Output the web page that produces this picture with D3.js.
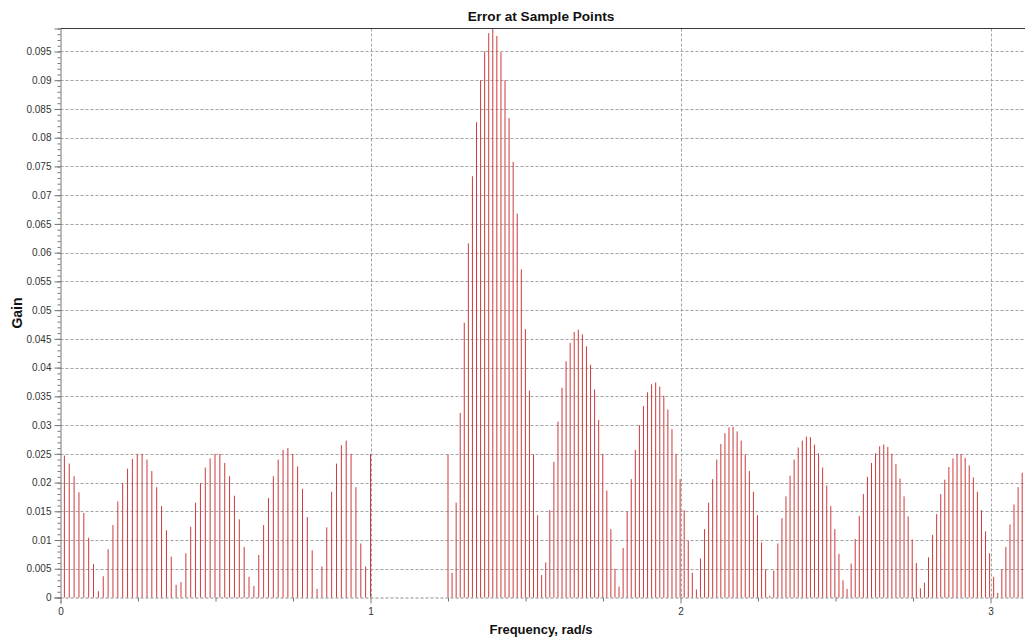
<!DOCTYPE html>
<html>
<head>
<meta charset="utf-8">
<script src="https://cdn.jsdelivr.net/npm/d3@7"></script>
<style>
  body { margin: 0; background: #fff; }
  svg { display: block; }
  text { font-family: "Liberation Sans", Arial, sans-serif; }
</style>
</head>
<body>
<svg id="chart" width="1025" height="639"></svg>
<script>
// Passband sample frequencies (rad/s) and the error magnitude at each one
const passFreq = [
  0.0125, 0.0282, 0.0439, 0.0595, 0.0752, 0.0909, 0.1065, 0.1222, 0.1379, 0.1536,
  0.1692, 0.1849, 0.2006, 0.2163, 0.2319, 0.2476, 0.2633, 0.2790, 0.2946, 0.3103,
  0.3260, 0.3417, 0.3573, 0.3730, 0.3887, 0.4044, 0.4200, 0.4357, 0.4514, 0.4671,
  0.4827, 0.4984, 0.5141, 0.5298, 0.5454, 0.5611, 0.5768, 0.5925, 0.6081, 0.6238,
  0.6395, 0.6552, 0.6708, 0.6865, 0.7022, 0.7179, 0.7335, 0.7492, 0.7649, 0.7806,
  0.7962, 0.8119, 0.8276, 0.8433, 0.8589, 0.8746, 0.8903, 0.9060, 0.9216, 0.9373,
  0.9530, 0.9687, 0.9843, 1.0000
];
const passGain = [
  0.0247, 0.0233, 0.0211, 0.0183, 0.0147, 0.0104, 0.0058, 0.0011, 0.0037, 0.0084,
  0.0126, 0.0167, 0.0199, 0.0224, 0.0241, 0.0250, 0.0250, 0.0240, 0.0220, 0.0192,
  0.0159, 0.0117, 0.0071, 0.0022, 0.0027, 0.0077, 0.0123, 0.0165, 0.0199, 0.0226,
  0.0242, 0.0250, 0.0250, 0.0234, 0.0211, 0.0177, 0.0136, 0.0088, 0.0036, 0.0020,
  0.0074, 0.0126, 0.0173, 0.0211, 0.0240, 0.0257, 0.0260, 0.0250, 0.0228, 0.0189,
  0.0140, 0.0082, 0.0015, 0.0054, 0.0122, 0.0184, 0.0233, 0.0265, 0.0273, 0.0250,
  0.0192, 0.0094, 0.0054, 0.0250
];

// Stopband sample frequencies (rad/s) and the error magnitude at each one
const stopFreq = [
  1.2500, 1.2631, 1.2763, 1.2894, 1.3025, 1.3157, 1.3288, 1.3420, 1.3551, 1.3682,
  1.3814, 1.3945, 1.4076, 1.4208, 1.4339, 1.4470, 1.4602, 1.4733, 1.4865, 1.4996,
  1.5127, 1.5259, 1.5390, 1.5521, 1.5653, 1.5784, 1.5915, 1.6047, 1.6178, 1.6309,
  1.6441, 1.6572, 1.6704, 1.6835, 1.6966, 1.7098, 1.7229, 1.7360, 1.7492, 1.7623,
  1.7754, 1.7886, 1.8017, 1.8149, 1.8280, 1.8411, 1.8543, 1.8674, 1.8805, 1.8937,
  1.9068, 1.9199, 1.9331, 1.9462, 1.9593, 1.9725, 1.9856, 1.9988, 2.0119, 2.0250,
  2.0382, 2.0513, 2.0644, 2.0776, 2.0907, 2.1038, 2.1170, 2.1301, 2.1433, 2.1564,
  2.1695, 2.1827, 2.1958, 2.2089, 2.2221, 2.2352, 2.2483, 2.2615, 2.2746, 2.2878,
  2.3009, 2.3140, 2.3272, 2.3403, 2.3534, 2.3666, 2.3797, 2.3928, 2.4060, 2.4191,
  2.4322, 2.4454, 2.4585, 2.4717, 2.4848, 2.4979, 2.5111, 2.5242, 2.5373, 2.5505,
  2.5636, 2.5767, 2.5899, 2.6030, 2.6162, 2.6293, 2.6424, 2.6556, 2.6687, 2.6818,
  2.6950, 2.7081, 2.7212, 2.7344, 2.7475, 2.7607, 2.7738, 2.7869, 2.8001, 2.8132,
  2.8263, 2.8395, 2.8526, 2.8657, 2.8789, 2.8920, 2.9051, 2.9183, 2.9314, 2.9446,
  2.9577, 2.9708, 2.9840, 2.9971, 3.0102, 3.0234, 3.0365, 3.0496, 3.0628, 3.0759,
  3.0891, 3.1022
];
const stopGain = [
  0.0249, 0.0043, 0.0165, 0.0321, 0.0478, 0.0616, 0.0733, 0.0827, 0.0900, 0.0950,
  0.0982, 0.0989, 0.0977, 0.0949, 0.0900, 0.0834, 0.0758, 0.0668, 0.0571, 0.0467,
  0.0360, 0.0249, 0.0143, 0.0039, 0.0061, 0.0152, 0.0236, 0.0306, 0.0365, 0.0411,
  0.0443, 0.0462, 0.0466, 0.0458, 0.0437, 0.0405, 0.0362, 0.0309, 0.0250, 0.0186,
  0.0119, 0.0050, 0.0019, 0.0086, 0.0150, 0.0206, 0.0257, 0.0300, 0.0333, 0.0357,
  0.0371, 0.0374, 0.0367, 0.0351, 0.0327, 0.0293, 0.0250, 0.0206, 0.0152, 0.0099,
  0.0043, 0.0014, 0.0068, 0.0119, 0.0165, 0.0206, 0.0240, 0.0267, 0.0286, 0.0296,
  0.0297, 0.0289, 0.0273, 0.0249, 0.0220, 0.0184, 0.0143, 0.0096, 0.0049, 0.0003,
  0.0047, 0.0094, 0.0138, 0.0176, 0.0212, 0.0240, 0.0261, 0.0273, 0.0280, 0.0279,
  0.0266, 0.0251, 0.0226, 0.0195, 0.0159, 0.0119, 0.0076, 0.0030, 0.0015, 0.0059,
  0.0102, 0.0142, 0.0180, 0.0210, 0.0234, 0.0251, 0.0263, 0.0266, 0.0262, 0.0250,
  0.0232, 0.0207, 0.0176, 0.0141, 0.0101, 0.0060, 0.0016, 0.0026, 0.0070, 0.0109,
  0.0145, 0.0180, 0.0205, 0.0227, 0.0242, 0.0250, 0.0250, 0.0243, 0.0230, 0.0209,
  0.0184, 0.0152, 0.0115, 0.0077, 0.0036, 0.0008, 0.0049, 0.0088, 0.0127, 0.0162,
  0.0192, 0.0217
];

// Axis ticks and their labels
const xTicks = [0, 1, 2, 3];
const xTickLabels = ["0", "1", "2", "3"];
const xMinorTicks = [0.25, 0.5, 0.75, 1.25, 1.5, 1.75, 2.25, 2.5, 2.75, 3.25];
const yTicks = [0, 0.005, 0.01, 0.015, 0.02, 0.025, 0.03, 0.035, 0.04, 0.045,
                0.05, 0.055, 0.06, 0.065, 0.07, 0.075, 0.08, 0.085, 0.09, 0.095];
const yTickLabels = ["0", "0.005", "0.01", "0.015", "0.02", "0.025", "0.03", "0.035", "0.04", "0.045",
                     "0.05", "0.055", "0.06", "0.065", "0.07", "0.075", "0.08", "0.085", "0.09", "0.095"];

const titleText = "Error at Sample Points";
const xLabelText = "Frequency, rad/s";
const yLabelText = "Gain";

const svg = d3.select("#chart");
const plotLeft = 60.5, plotTop = 28.5, plotBottom = 597.5;
const pxPerUnit = 310;
const plotRight = plotLeft + Math.PI * pxPerUnit;

const x = d3.scaleLinear().domain([0, Math.PI]).range([plotLeft, plotRight]);
const y = d3.scaleLinear().domain([0, 0.099]).range([plotBottom, plotTop]);

const gridColor = "#a3a3a3";

// horizontal grid
svg.append("g")
  .selectAll("line")
  .data(yTicks.filter(d => d > 0))
  .join("line")
  .attr("x1", plotLeft).attr("x2", plotRight)
  .attr("y1", d => Math.round(y(d)) + 0.5).attr("y2", d => Math.round(y(d)) + 0.5)
  .attr("stroke", gridColor)
  .attr("stroke-dasharray", "3,2");

// vertical grid
svg.append("g")
  .selectAll("line")
  .data(xTicks.filter(d => d > 0))
  .join("line")
  .attr("x1", d => Math.round(x(d)) + 0.5).attr("x2", d => Math.round(x(d)) + 0.5)
  .attr("y1", plotTop).attr("y2", plotBottom)
  .attr("stroke", gridColor)
  .attr("stroke-dasharray", "3,2");

// stems
const stems = passFreq.map((f, i) => ({ f, g: passGain[i] }))
  .concat(stopFreq.map((f, i) => ({ f, g: stopGain[i] })));

svg.append("g")
  .selectAll("line")
  .data(stems)
  .join("line")
  .attr("x1", d => x(d.f)).attr("x2", d => x(d.f))
  .attr("y1", y(0)).attr("y2", d => y(d.g))
  .attr("stroke", "#cc3b3b")
  .attr("stroke-width", 1);

// top frame
svg.append("line")
  .attr("x1", plotLeft).attr("x2", 1025)
  .attr("y1", plotTop).attr("y2", plotTop)
  .attr("stroke", "#3a3a3a").attr("stroke-width", 1.2);

// bottom axis
const xAxisMinor = svg.append("g")
  .attr("transform", `translate(0,${plotBottom})`)
  .call(d3.axisBottom(x).tickValues(xMinorTicks).tickSize(4).tickFormat(""));
xAxisMinor.select(".domain").remove();
xAxisMinor.selectAll("line").attr("stroke", "#777");

const xAxis = svg.append("g")
  .attr("transform", `translate(0,${plotBottom})`)
  .call(d3.axisBottom(x).tickValues(xTicks).tickSize(6).tickPadding(4)
    .tickFormat((d, i) => xTickLabels[i]));
xAxis.select(".domain")
  .attr("stroke", "#8a8a8a")
  .attr("stroke-dasharray", "3,2");
xAxis.selectAll(".tick line").attr("stroke", "#777");
xAxis.selectAll("text")
  .attr("fill", "#333")
  .style("font-size", "10px")
  .style("font-family", "'Liberation Sans', Arial, sans-serif");

// left axis
const yAxisMinor = svg.append("g")
  .attr("transform", `translate(${plotLeft},0)`)
  .call(d3.axisLeft(y).tickValues(d3.range(0, 0.0995, 0.001)).tickSize(3).tickFormat(""));
yAxisMinor.select(".domain").remove();
yAxisMinor.selectAll("line").attr("stroke", "#777");

const yAxis = svg.append("g")
  .attr("transform", `translate(${plotLeft},0)`)
  .call(d3.axisLeft(y).tickValues(yTicks).tickSize(6).tickPadding(3)
    .tickFormat((d, i) => yTickLabels[i]));
yAxis.select(".domain").attr("stroke", "#777");
yAxis.selectAll(".tick line").attr("stroke", "#777");
yAxis.selectAll("text")
  .attr("fill", "#333")
  .style("font-size", "10px")
  .style("font-family", "'Liberation Sans', Arial, sans-serif");

// title and axis labels
svg.append("text")
  .attr("x", 541).attr("y", 21)
  .attr("text-anchor", "middle")
  .style("font-size", "13.6px").style("font-weight", "bold")
  .attr("fill", "#111")
  .text(titleText);

svg.append("text")
  .attr("x", 541).attr("y", 634)
  .attr("text-anchor", "middle")
  .style("font-size", "13px").style("font-weight", "bold")
  .attr("fill", "#111")
  .text(xLabelText);

svg.append("text")
  .attr("transform", `translate(22,313) rotate(-90)`)
  .attr("text-anchor", "middle")
  .style("font-size", "14px").style("font-weight", "bold")
  .attr("fill", "#111")
  .text(yLabelText);
</script>
</body>
</html>
